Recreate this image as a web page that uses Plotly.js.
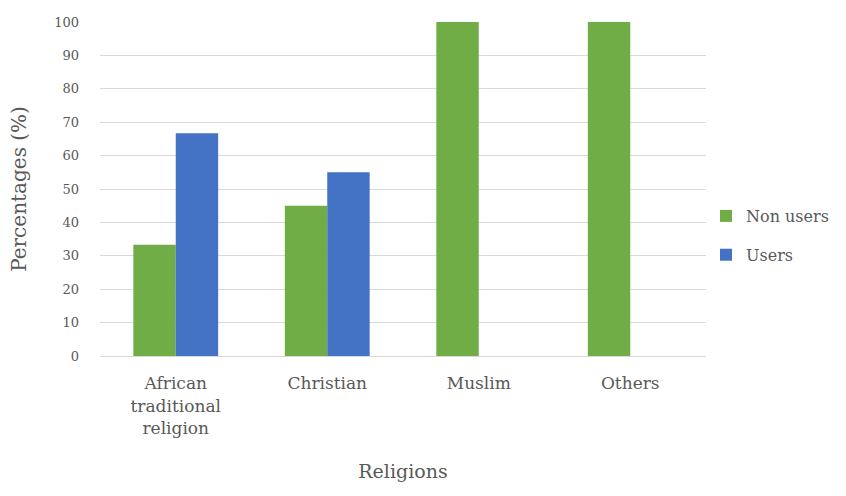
<!DOCTYPE html>
<html>
<head>
<meta charset="utf-8">
<script src="https://cdn.plot.ly/plotly-3.0.1.min.js"></script>
<style>
  html, body { margin: 0; padding: 0; background: #ffffff; }
  #chart { width: 846px; height: 496px; }
</style>
</head>
<body>
<div id="chart"></div>
<script>
// Share of respondents by religion
const religions = ["African<br>traditional<br>religion", "Christian", "Muslim", "Others"];
const nonUsers = [33.3, 45, 100, 100];
const users = [66.7, 55, 0, 0];
const yTicks = [0, 10, 20, 30, 40, 50, 60, 70, 80, 90, 100];

const serif = "DejaVu Serif";
const ink = "#595959";

const traces = [
  {
    type: "bar", name: "Non users", x: religions, y: nonUsers,
    marker: { color: "#70ad47" }, legendgroup: "a", hoverinfo: "none"
  },
  {
    type: "bar", name: "Users", x: religions, y: users,
    marker: { color: "#4472c4" }, legendgroup: "b", hoverinfo: "none"
  }
];

const layout = {
  width: 846, height: 496,
  margin: { l: 100, r: 140, t: 22, b: 140 },
  paper_bgcolor: "#ffffff", plot_bgcolor: "#ffffff",
  barmode: "group", bargap: 0.44, bargroupgap: 0,
  font: { family: serif, color: ink, size: 15 },
  showlegend: true,
  legend: {
    x: 1.0, xanchor: "left", y: 0.47, yanchor: "top",
    font: { family: serif, size: 16, color: ink },
    traceorder: "grouped", tracegroupgap: 15,
    itemwidth: 30
  },
  xaxis: {
    type: "category",
    tickfont: { family: serif, size: 17, color: ink },
    showline: true, linecolor: "#d9d9d9", linewidth: 1,
    ticks: "", showgrid: false, ticklabelstandoff: 12,
    title: { text: "Religions", font: { family: serif, size: 19, color: ink }, standoff: 28 }
  },
  yaxis: {
    range: [0, 100], tickvals: yTicks, ticktext: yTicks.map(String),
    tickfont: { family: serif, size: 13, color: ink },
    showgrid: true, gridcolor: "#d9d9d9", gridwidth: 1,
    zeroline: false, showline: false, ticks: "", ticklen: 0,
    ticklabelstandoff: 20,
    title: { text: "Percentages (%)", font: { family: serif, size: 20, color: ink }, standoff: 22 }
  }
};

Plotly.newPlot("chart", traces, layout, { displayModeBar: false, staticPlot: true });
</script>
</body>
</html>
